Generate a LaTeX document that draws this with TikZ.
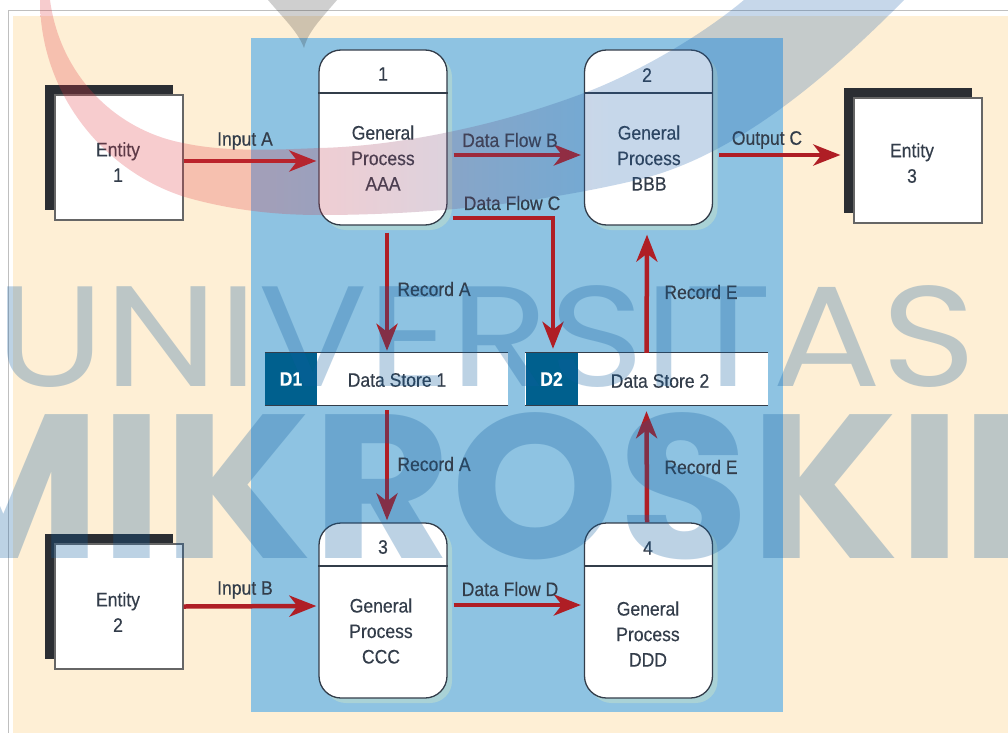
\documentclass[tikz,border=0pt]{standalone}
\usepackage{fontspec}
\setmainfont{Liberation Sans}[FakeStretch=0.9,FakeBold=0.35]
\newfontfamily\markfont{Poppins}
\usetikzlibrary{arrows.meta}

\definecolor{cream}{HTML}{FEEFD5}
\definecolor{panelblue}{HTML}{8EC3E2}
\definecolor{flowred}{HTML}{AF1E25}
\definecolor{inkdark}{HTML}{333D4A}
\definecolor{boxdark}{HTML}{2B2E33}
\definecolor{storeblue}{HTML}{00608E}
\definecolor{procshadow}{HTML}{A9D2D6}
\definecolor{markblue}{HTML}{115EA0}
\definecolor{swooshred}{HTML}{E0353F}
\definecolor{swooshblue}{HTML}{1E62AE}
\pgfdeclarehorizontalshading{swooshfill}{100bp}{
  color(0bp)=(swooshred); color(38bp)=(swooshred);
  color(58bp)=(swooshblue); color(100bp)=(swooshblue)}

\tikzset{
  difftext/.style={text=inkdark, font=\fontsize{19.5}{23}\selectfont, align=center, inner sep=0pt},
  procbox/.style={draw=inkdark, line width=1.3pt, fill=white, rounded corners=22pt,
    minimum width=128pt, minimum height=175pt,
    preaction={fill=procshadow, draw=none, transform canvas={shift={(5pt,-5pt)}}}},
  entitybox/.style={draw=gray!80!black, line width=1.2pt, fill=white,
    minimum width=128pt, minimum height=125pt,
    preaction={fill=boxdark, draw=none, transform canvas={shift={(-10pt,10pt)}}}},
  storebox/.style={fill=white, minimum width=243pt, minimum height=52pt, inner sep=0pt},
  storetag/.style={fill=storeblue, text=white, minimum width=52pt, minimum height=52pt, inner sep=0pt,
    font=\fontsize{19.5}{23}\selectfont\bfseries},
  storeedge/.style={draw=inkdark, line width=1.2pt},
  flow/.style={draw=flowred, line width=4.5pt, -{Stealth[length=27pt,width=21pt,inset=8pt]}},
  marktext/.style={text=markblue, text opacity=.28, inner sep=0pt, anchor=base west},
}

\begin{document}
\begin{tikzpicture}[x=1pt, y=-1pt]
    \useasboundingbox (0,0) rectangle (1008,733);
    \clip (0,0) rectangle (1008,733);

    % Background
    \fill[white] (0,0) rectangle (1008,733);
    \draw[gray!50, line width=1pt] (8,733) -- (8,11) -- (1008,11);
    \fill[cream] (13,16) rectangle (1008,733);
    \fill[panelblue] (251,38) rectangle (783,712);

    % Entities
    \node[entitybox] (e1) at (119,157.5) {};
    \node[entitybox] (e2) at (119,606.5) {};
    \node[entitybox] (e3) at (918,160.5) {};
    \node[difftext] (e1t) at (118,162) {Entity\\[2.5pt]1};
    \node[difftext] (e2t) at (118,612) {Entity\\[2.5pt]2};
    \node[difftext] (e3t) at (912,163) {Entity\\[2.5pt]3};

    % Processes
    \node[procbox] (p1) at (383,137.5) {};
    \node[procbox] (p2) at (648.5,137.5) {};
    \node[procbox] (p3) at (383,610.5) {};
    \node[procbox] (p4) at (648.5,610.5) {};
    \draw[inkdark, line width=1.2pt] (p1.west |- 0,93) -- (p1.east |- 0,93);
    \draw[inkdark, line width=1.2pt] (p2.west |- 0,93) -- (p2.east |- 0,93);
    \draw[inkdark, line width=1.2pt] (p3.west |- 0,566) -- (p3.east |- 0,566);
    \draw[inkdark, line width=1.2pt] (p4.west |- 0,566) -- (p4.east |- 0,566);
    \node[difftext] (n1) at (383,74) {1};
    \node[difftext] (n2) at (647,75) {2};
    \node[difftext] (n3) at (383,547) {3};
    \node[difftext] (n4) at (648,548) {4};
    \node[difftext] (t1) at (383,158) {General\\[2.5pt]Process\\[2.5pt]AAA};
    \node[difftext] (t2) at (649,158) {General\\[2.5pt]Process\\[2.5pt]BBB};
    \node[difftext] (t3) at (381,631) {General\\[2.5pt]Process\\[2.5pt]CCC};
    \node[difftext] (t4) at (648,634) {General\\[2.5pt]Process\\[2.5pt]DDD};

    % Data stores
    \node[storebox] (s1) at (386.5,379) {};
    \node[storebox] (s2) at (646.5,379) {};
    \node[storetag] (d1) at (291,379) {D1};
    \node[storetag] (d2) at (551.5,379) {D2};
    \draw[storeedge] (s1.north west) -- (s1.north east);
    \draw[storeedge] (s1.south west) -- (s1.south east);
    \draw[storeedge] (s2.north west) -- (s2.north east);
    \draw[storeedge] (s2.south west) -- (s2.south east);
    \node[difftext] (s1t) at (397,380) {Data Store 1};
    \node[difftext] (s2t) at (660,381) {Data Store 2};

    % Flows
    \draw[flow] ([yshift=-3.5pt]e1.east) -- ([yshift=-23.5pt,xshift=-2pt]p1.west);
    \draw[flow] ([yshift=-17.5pt,xshift=6pt]p1.east) -- ([yshift=-17.5pt,xshift=-3pt]p2.west);
    \draw[flow] ([yshift=-17.5pt,xshift=6pt]p2.east) -- ([yshift=5.5pt,xshift=-13pt]e3.west);
    \draw[flow] ([xshift=5pt,yshift=-80.5pt]p1.east) -| ([xshift=1.5pt,yshift=4pt]d2.north);
    \draw[flow] ([xshift=4pt,yshift=-7pt]p1.south) -- ([xshift=0.5pt,yshift=2pt]s1.north);
    \draw[flow] ([yshift=0pt]s2.north) -- ([xshift=-1.5pt,yshift=-9pt]p2.south);
    \draw[flow] ([xshift=0.5pt,yshift=-5pt]s1.south) -- ([xshift=4pt,yshift=2pt]p3.north);
    \draw[flow] ([xshift=-1.5pt]p4.north) -- ([yshift=-6pt]s2.south);
    \draw[flow] ([yshift=0pt]e2.east) -- ([yshift=4.5pt,xshift=-2pt]p3.west);
    \draw[flow] ([yshift=5.5pt,xshift=6pt]p3.east) -- ([yshift=5.5pt,xshift=-3pt]p4.west);

    % Flow labels
    \node[difftext] (la) at (245,141) {Input A};
    \node[difftext] (lb) at (510,140) {Data Flow B};
    \node[difftext] (lc) at (767,140) {Output C};
    \node[difftext] (ld) at (512,203) {Data Flow C};
    \node[difftext] (le) at (434,289) {Record A};
    \node[difftext] (lf) at (701,292) {Record E};
    \node[difftext] (lg) at (434,464) {Record A};
    \node[difftext] (lh) at (701,467) {Record E};
    \node[difftext] (li) at (245,590) {Input B};
    \node[difftext] (lj) at (510,589) {Data Flow D};

    % Logo swoosh
    \shade[shading=swooshfill, opacity=.25]
      (40,0) .. controls (40,90) and (100,170) .. (185,197)
      .. controls (230,210) and (275,215) .. (320,215)
      .. controls (430,215) and (540,203) .. (637,180)
      .. controls (730,158) and (820,85) .. (904,0)
      -- (744,0) .. controls (690,45) and (620,80) .. (584,93)
      .. controls (500,125) and (400,146) .. (320,148)
      .. controls (270,150) and (225,152) .. (183,143)
      .. controls (115,130) and (60,75) .. (50,0) -- cycle;
    \fill[black!85, opacity=.22] (268,0) .. controls (285,20) and (298,32) .. (304,48)
      .. controls (308,32) and (320,20) .. (337,0) -- cycle;

    % Watermark
    \node[marktext] (uni) at (-5,386) {\scalebox{1.133}[1]{\markfont\fontsize{143}{143}\selectfont UNIVERSITAS}};
    \node[marktext] (mik) at (-95,558) {\scalebox{1.04}[1]{\markfont\bfseries\fontsize{205}{205}\selectfont MIKROSKIL}};
\end{tikzpicture}
\end{document}
